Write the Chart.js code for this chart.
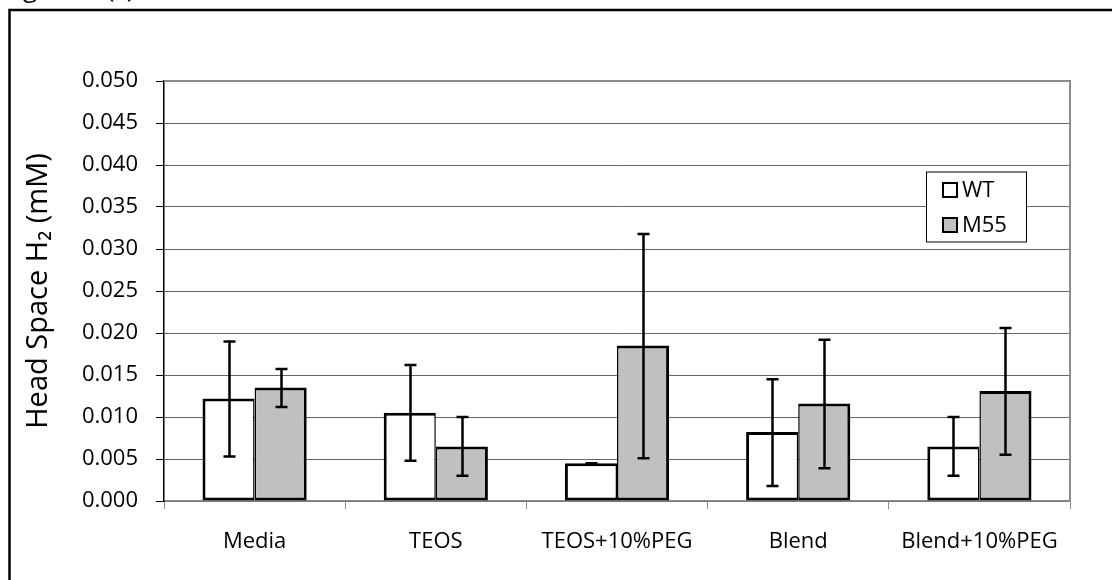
<!DOCTYPE html>
<html>
<head>
<meta charset="utf-8">
<script src="https://cdn.jsdelivr.net/npm/chart.js@4.4.1/dist/chart.umd.min.js"></script>
<style>
  html, body { margin: 0; padding: 0; background: #ffffff; overflow: hidden; }
  #wrap { width: 1112px; height: 580px; position: relative; }
</style>
</head>
<body>
<div id="wrap"><canvas id="c" width="1112" height="580"></canvas></div>
<script>
// ---- data ----
const categories = ['Media', 'TEOS', 'TEOS+10%PEG', 'Blend', 'Blend+10%PEG'];
const seriesNames = ['WT', 'M55'];
const wtValues  = [0.0122, 0.0105, 0.0045, 0.0082, 0.0065];
const m55Values = [0.0135, 0.0065, 0.0185, 0.0116, 0.0131];
const wtLow   = [0.0053, 0.0048, 0.0045, 0.0018, 0.0030];
const wtHigh  = [0.0190, 0.0162, 0.0045, 0.0145, 0.0100];
const m55Low  = [0.0112, 0.0030, 0.0051, 0.0039, 0.0055];
const m55High = [0.0157, 0.0100, 0.0318, 0.0192, 0.0206];
const yMin = 0, yMax = 0.05, yStep = 0.005;
const yTitle = 'Head Space H\u2082 (mM)';
const figLabel = 'Figure 5 (c)';

const FONT = '"Open Sans", Lato, sans-serif';

const frame = {
  id: 'frame',
  beforeDraw(chart) {
    const ctx = chart.ctx;
    ctx.save();
    ctx.fillStyle = '#ffffff';
    ctx.fillRect(0, 0, chart.width, chart.height);
    ctx.strokeStyle = '#000000';
    ctx.lineWidth = 2.5;
    ctx.strokeRect(9.5, 10, 1200, 700);
    ctx.fillStyle = '#000000';
    ctx.font = '26px ' + FONT;
    ctx.textBaseline = 'alphabetic';
    ctx.textAlign = 'left';
    ctx.fillText(figLabel, 3, -3);
    ctx.restore();
  },
  afterDraw(chart) {
    const ctx = chart.ctx;
    const a = chart.chartArea;
    ctx.save();
    // plot area top/right border
    ctx.strokeStyle = '#8c8c8c';
    ctx.lineWidth = 2;
    ctx.beginPath();
    ctx.moveTo(a.left, a.top);
    ctx.lineTo(a.right, a.top);
    ctx.lineTo(a.right, a.bottom);
    ctx.stroke();
    // legend
    const lx = 926.5, ly = 172, lw = 100, lh = 70;
    ctx.fillStyle = '#ffffff';
    ctx.fillRect(lx, ly, lw, lh);
    ctx.strokeStyle = '#000000';
    ctx.lineWidth = 1;
    ctx.strokeRect(lx, ly, lw, lh);
    ctx.font = '22px ' + FONT;
    ctx.textBaseline = 'middle';
    ctx.textAlign = 'left';
    chart.data.datasets.forEach((ds, i) => {
      const cy = 190 + i * 35;
      ctx.fillStyle = ds.backgroundColor;
      ctx.fillRect(943, cy - 7, 14, 14);
      ctx.strokeStyle = '#000000';
      ctx.lineWidth = 2;
      ctx.strokeRect(943, cy - 7, 14, 14);
      ctx.fillStyle = '#000000';
      ctx.fillText(ds.label, 962, cy + 1);
    });
    ctx.restore();
  }
};

const errorBars = {
  id: 'errorBars',
  afterDatasetsDraw(chart) {
    const ctx = chart.ctx;
    const yScale = chart.scales.y;
    ctx.save();
    ctx.strokeStyle = '#000000';
    ctx.lineWidth = 2.5;
    chart.data.datasets.forEach((ds, di) => {
      const meta = chart.getDatasetMeta(di);
      meta.data.forEach((bar, i) => {
        const x = Math.round(bar.x) + 0.5;
        const yl = yScale.getPixelForValue(ds.errLow[i]);
        const yh = yScale.getPixelForValue(ds.errHigh[i]);
        ctx.beginPath();
        ctx.moveTo(x, yl); ctx.lineTo(x, yh);
        ctx.moveTo(x - 6, yl); ctx.lineTo(x + 6, yl);
        ctx.moveTo(x - 6, yh); ctx.lineTo(x + 6, yh);
        ctx.stroke();
      });
    });
    ctx.restore();
  }
};

new Chart(document.getElementById('c'), {
  type: 'bar',
  data: {
    labels: categories,
    datasets: [
      {
        label: seriesNames[0], data: wtValues, errLow: wtLow, errHigh: wtHigh,
        backgroundColor: '#ffffff', borderColor: '#000000',
        borderWidth: { left: 3, top: 3, bottom: 3, right: 1.5 }, borderSkipped: false
      },
      {
        label: seriesNames[1], data: m55Values, errLow: m55Low, errHigh: m55High,
        backgroundColor: '#c0c0c0', borderColor: '#000000',
        borderWidth: { left: 1.5, top: 3, bottom: 3, right: 3 }, borderSkipped: false
      }
    ]
  },
  options: {
    responsive: false,
    devicePixelRatio: 1,
    animation: false,
    layout: { padding: { left: 20, top: 81, right: 42, bottom: 0 } },
    datasets: { bar: { categoryPercentage: 0.575, barPercentage: 1.0 } },
    plugins: { legend: { display: false }, tooltip: { enabled: false }, title: { display: false } },
    scales: {
      x: {
        offset: true,
        grid: { display: true, drawOnChartArea: false, drawTicks: true, tickLength: 8, color: '#8c8c8c', offset: true },
        border: { display: true, color: '#8c8c8c', width: 1.5 },
        ticks: { color: '#000000', font: { family: FONT, size: 22 }, padding: 20, maxRotation: 0, autoSkip: false },
        afterFit(s) { s.height = 79; }
      },
      y: {
        min: yMin, max: yMax,
        grid: { color: '#666666', lineWidth: 1, tickLength: 8, tickColor: '#000000', drawTicks: true },
        border: { display: true, color: '#000000', width: 1.5 },
        ticks: {
          stepSize: yStep, color: '#000000', padding: 18,
          font: { family: FONT, size: 22 },
          callback: (v) => Number(v).toFixed(3)
        },
        title: { display: true, text: yTitle, color: '#000000', font: { family: FONT, size: 29 }, padding: { top: 1, bottom: 0 } },
        afterFit(s) { s.width = 144; }
      }
    }
  },
  plugins: [frame, errorBars]
});
</script>
</body>
</html>
